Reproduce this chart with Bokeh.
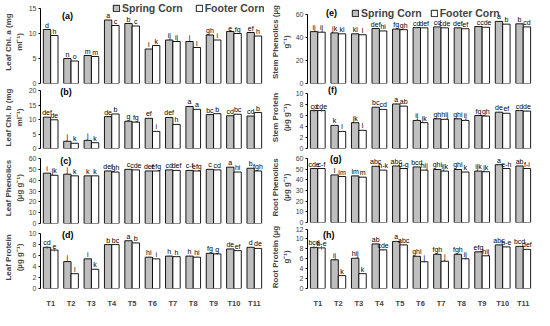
from bokeh.plotting import figure
from bokeh.models import FactorRange, Range1d, FixedTicker, Legend, LegendItem, Label, ColumnDataSource
from bokeh.transform import dodge
from bokeh.layouts import row, column
from bokeh.embed import file_html
from bokeh.resources import INLINE
from bokeh.core.properties import value

# ---------------- data ----------------
categories = ["T1", "T2", "T3", "T4", "T5", "T6", "T7", "T8", "T9", "T10", "T11"]
series_names = ["Spring Corn", "Footer Corn"]

# (a) Leaf Chl. a
leaf_chl_a_spring = [10.8, 5.0, 5.6, 12.7, 12.0, 6.9, 8.7, 8.4, 9.7, 10.4, 10.2]
leaf_chl_a_footer = [9.6, 4.5, 5.4, 11.6, 11.5, 7.6, 8.4, 7.2, 8.7, 10.0, 9.5]
leaf_chl_a_let_spring = ["d", "n", "m", "a", "b", "l", "ij", "j", "gh", "e", "ef"]
leaf_chl_a_let_footer = ["h", "o", "m", "c", "c", "k", "ij", "l", "i", "fg", "h"]
leaf_chl_a_ticks = [0, 5, 10, 15]

# (b) Leaf Chl. b
leaf_chl_b_spring = [10.8, 2.5, 2.8, 11.0, 9.4, 10.4, 10.7, 14.5, 11.7, 11.3, 11.2]
leaf_chl_b_footer = [9.9, 1.8, 2.0, 11.9, 9.1, 5.9, 8.3, 13.5, 12.0, 11.8, 12.4]
leaf_chl_b_let_spring = ["def", "j", "j", "de", "g", "ef", "def", "a", "bc", "cd", "cd"]
leaf_chl_b_let_footer = ["de", "k", "k", "b", "fg", "i", "h", "a", "b", "bc", "b"]
leaf_chl_b_ticks = [0, 5, 10, 15, 20]

# (c) Leaf Phenolics
leaf_phen_spring = [46.5, 45.5, 44.0, 48.5, 50.0, 48.5, 49.5, 49.0, 50.0, 52.0, 51.0]
leaf_phen_footer = [44.5, 44.0, 44.0, 47.5, 49.5, 48.5, 49.0, 48.5, 49.5, 47.5, 48.5]
leaf_phen_let_spring = ["i", "j", "k", "def", "c", "def", "cd", "c-f", "c", "a", "b"]
leaf_phen_let_footer = ["jk", "k", "k", "gh", "cde", "efg", "def", "efg", "cd", "hi", "fgh"]
leaf_phen_ticks = [0, 10, 20, 30, 40, 50, 60]

# (d) Leaf Protein
leaf_prot_spring = [7.5, 4.9, 5.4, 8.0, 8.7, 5.7, 5.9, 5.9, 6.4, 7.2, 7.5]
leaf_prot_footer = [7.0, 2.7, 3.5, 8.0, 8.3, 5.4, 5.8, 5.7, 6.3, 6.9, 7.3]
leaf_prot_err_spring = [0.3, 0.1, 0.1, 0.1, 0.1, 0.1, 0.1, 0.1, 0.1, 0.1, 0.1]
leaf_prot_err_footer = [0.3, 0.1, 0.1, 0.1, 0.1, 0.1, 0.1, 0.1, 0.1, 0.1, 0.1]
leaf_prot_let_spring = ["cd", "j", "i", "b", "a", "hi", "h", "h", "fg", "de", "d"]
leaf_prot_let_footer = ["e", "l", "k", "bc", "b", "i", "h", "hi", "g", "ef", "de"]
leaf_prot_ticks = [0, 2, 4, 6, 8, 10]

# (e) Stem Phenolics
stem_phen_spring = [45.1, 44.0, 43.2, 47.8, 47.3, 48.6, 49.2, 48.4, 49.5, 54.0, 51.9]
stem_phen_footer = [44.6, 43.2, 42.4, 45.7, 46.8, 48.4, 48.4, 47.6, 48.9, 51.6, 49.2]
stem_phen_let_spring = ["ij", "jk", "kl", "def", "fg", "cd", "cd", "def", "c", "a", "b"]
stem_phen_let_footer = ["ij", "kl", "l", "hi", "gh", "def", "cde", "ef", "cde", "b", "cd"]
stem_phen_ticks = [0, 20, 40, 60]

# (f) Stem Protein
stem_prot_spring = [6.9, 4.2, 4.7, 7.5, 8.1, 5.1, 5.4, 5.4, 6.0, 6.6, 6.9]
stem_prot_footer = [6.9, 3.1, 3.3, 7.1, 7.7, 4.7, 5.3, 5.1, 5.9, 6.4, 6.8]
stem_prot_err_spring = [0.3, 0.1, 0.1, 0.1, 0.1, 0.1, 0.1, 0.1, 0.1, 0.1, 0.1]
stem_prot_err_footer = [0.3, 0.1, 0.1, 0.1, 0.1, 0.1, 0.1, 0.1, 0.1, 0.1, 0.1]
stem_prot_let_spring = ["cd", "k", "jk", "bc", "a", "ij", "gh", "ghi", "fg", "de", "cd"]
stem_prot_let_footer = ["cde", "l", "l", "cd", "ab", "jk", "hij", "ij", "gh", "ef", "de"]
stem_prot_ticks = [0, 2, 4, 6, 8, 10]

# (g) Root Phenolics
root_phen_spring = [50.6, 44.6, 43.7, 52.7, 53.0, 52.1, 49.7, 49.7, 48.2, 54.2, 53.0]
root_phen_footer = [50.6, 43.1, 42.5, 49.1, 50.6, 49.1, 48.2, 47.3, 47.6, 50.6, 50.6]
root_phen_let_spring = ["cde", "l", "lm", "abc", "abc", "bcd", "ghi", "ghi", "ijk", "a", "ab"]
root_phen_let_footer = ["c-f", "lm", "m", "h-k", "d-g", "hij", "ijk", "k", "jk", "e-h", "f-i"]
root_phen_ticks = [0, 10, 20, 30, 40, 50, 60]

# (h) Root Protein
root_prot_spring = [8.3, 5.8, 6.1, 9.0, 9.5, 6.5, 6.9, 6.9, 7.4, 8.8, 8.5]
root_prot_footer = [8.2, 2.6, 3.0, 7.8, 8.8, 5.4, 5.5, 6.0, 6.6, 8.4, 7.9]
root_prot_err_spring = [0.3, 0.1, 0.1, 0.1, 0.1, 0.1, 0.1, 0.1, 0.1, 0.1, 0.1]
root_prot_err_footer = [0.4, 0.1, 0.1, 0.2, 0.1, 0.1, 0.1, 0.1, 0.1, 0.1, 0.1]
root_prot_let_spring = ["bcd", "ij", "hij", "ab", "a", "ghi", "fgh", "fgh", "efg", "abc", "bcd"]
root_prot_let_footer = ["b-e", "k", "k", "cde", "abc", "j", "j", "ij", "hij", "b-e", "def"]
root_prot_ticks = [0, 2, 4, 6, 8, 10, 12]

# ---------------- style ----------------
FONT = "Liberation Sans"
GRAY = "#bfbfbf"
OFF = 0.18
BW = 0.36


def make_panel(width, bl, br, extra, axis_px, bb, ylabel, ticks, spring, footer,
               ls, lf, tag, tag_x, tag_dy, show_x=False, es=None, ef=None,
               legend_loc=None, legend_spacing=14):
    top = ticks[-1]
    height = extra + axis_px + bb
    ymax = top * (axis_px + extra) / axis_px
    p = figure(width=width, height=height, x_range=FactorRange(factors=categories),
               y_range=Range1d(0, ymax), output_backend="svg", toolbar_location=None,
               tools="", min_border_left=bl, min_border_right=br, min_border_top=0,
               min_border_bottom=bb)
    p.outline_line_color = None
    p.grid.visible = False
    p.background_fill_color = "white"

    data = dict(cat=categories, s=spring, f=footer, ls=ls, lf=lf)
    if es is not None:
        data["s_lo"] = [v - e for v, e in zip(spring, es)]
        data["s_hi"] = [v + e for v, e in zip(spring, es)]
        data["f_lo"] = [v - e for v, e in zip(footer, ef)]
        data["f_hi"] = [v + e for v, e in zip(footer, ef)]
    src = ColumnDataSource(data)

    xs = dodge("cat", -OFF, range=p.x_range)
    xf = dodge("cat", OFF, range=p.x_range)
    r1 = p.vbar(x=xs, top="s", width=BW, fill_color=GRAY, line_color="black",
                line_width=0.9, source=src)
    r2 = p.vbar(x=xf, top="f", width=BW, fill_color="white", line_color="black",
                line_width=0.9, source=src)

    if es is not None:
        for xx, lo, hi in ((xs, "s_lo", "s_hi"), (xf, "f_lo", "f_hi")):
            p.segment(x0=xx, y0=lo, x1=xx, y1=hi, line_color="#555555",
                      line_width=0.8, source=src)

    for xx, yy, tt in ((xs, "s", "ls"), (xf, "f", "lf")):
        p.text(x=xx, y=yy, text=tt, text_align="center", text_baseline="bottom",
               y_offset=-1, text_font_size="7px", text_font=value(FONT),
               text_color="black", source=src)

    tag_y = top + tag_dy * top / axis_px
    p.add_layout(Label(x=tag_x, y=tag_y, text=tag, text_font=FONT, text_font_size="9px",
                       text_font_style="bold", text_baseline="middle", text_align="left",
                       text_color="black"))

    if legend_loc is not None:
        leg = Legend(items=[LegendItem(label=series_names[0], renderers=[r1]),
                            LegendItem(label=series_names[1], renderers=[r2])],
                     location=legend_loc, orientation="horizontal")
        leg.background_fill_alpha = 0
        leg.border_line_color = None
        leg.padding = 0
        leg.margin = 0
        leg.spacing = legend_spacing
        leg.glyph_width = 8
        leg.glyph_height = 8
        leg.label_standoff = 2
        leg.label_height = 10
        leg.label_text_font = FONT
        leg.label_text_font_size = "10.5px"
        leg.label_text_font_style = "bold"
        p.add_layout(leg)

    ya = p.yaxis[0]
    ya.ticker = FixedTicker(ticks=ticks)
    ya.bounds = (0, top)
    ya.axis_label = ylabel
    ya.axis_label_text_font = FONT
    ya.axis_label_text_font_size = "8px"
    ya.axis_label_text_font_style = "bold"
    ya.axis_label_standoff = 2
    ya.axis_line_color = "black"
    ya.axis_line_width = 1
    ya.major_tick_line_color = "black"
    ya.major_tick_out = 2
    ya.major_tick_in = 0
    ya.minor_tick_line_color = None
    ya.major_label_text_font = FONT
    ya.major_label_text_font_size = "7px"
    ya.major_label_standoff = 2

    xa = p.xaxis[0]
    if show_x:
        xa.axis_line_color = None
        xa.major_tick_line_color = None
        xa.minor_tick_line_color = None
        xa.major_label_text_font = FONT
        xa.major_label_text_font_size = "7.5px"
        xa.major_label_text_font_style = "bold"
        xa.major_label_standoff = 4
    else:
        xa.visible = False
    return p


LW, LBL, LBR = 266, 32, 2
RW, RBL, RBR = 268, 41, 1

pa = make_panel(LW, LBL, LBR, 8, 75, 3, "Leaf Chl. a (mg\nml⁻¹)", leaf_chl_a_ticks,
                leaf_chl_a_spring, leaf_chl_a_footer, leaf_chl_a_let_spring, leaf_chl_a_let_footer,
                "(a)", 1.06, -7, legend_loc=(72, 69), legend_spacing=12)
pb = make_panel(LW, LBL, LBR, 4, 58, 4, "Leaf Chl. b (mg\nml⁻¹)", leaf_chl_b_ticks,
                leaf_chl_b_spring, leaf_chl_b_footer, leaf_chl_b_let_spring, leaf_chl_b_let_footer,
                "(b)", 0.97, -1)
pc = make_panel(LW, LBL, LBR, 6, 65, 3, "Leaf Phenolics\n(µg g⁻¹)", leaf_phen_ticks,
                leaf_phen_spring, leaf_phen_footer, leaf_phen_let_spring, leaf_phen_let_footer,
                "(c)", 0.97, -2)
pd_ = make_panel(LW, LBL, LBR, 8, 62, 14, "Leaf Protein\n(µg g⁻¹)", leaf_prot_ticks,
                 leaf_prot_spring, leaf_prot_footer, leaf_prot_let_spring, leaf_prot_let_footer,
                 "(d)", 1.05, -2, show_x=True, es=leaf_prot_err_spring, ef=leaf_prot_err_footer)

pe = make_panel(RW, RBL, RBR, 14, 69, 3, "Stem Phenolics (µg\ng⁻¹)", stem_phen_ticks,
                stem_phen_spring, stem_phen_footer, stem_phen_let_spring, stem_phen_let_footer,
                "(e)", 0.9, 2, legend_loc=(44, 64), legend_spacing=8)
pf = make_panel(RW, RBL, RBR, 7, 55, 4, "Stem Protein\n(µg g⁻¹)", stem_prot_ticks,
                stem_prot_spring, stem_prot_footer, stem_prot_let_spring, stem_prot_let_footer,
                "(f)", 1.0, 4, es=stem_prot_err_spring, ef=stem_prot_err_footer)
pg = make_panel(RW, RBL, RBR, 6, 64, 3, "Root Phenolics\n(µg g⁻¹)", root_phen_ticks,
                root_phen_spring, root_phen_footer, root_phen_let_spring, root_phen_let_footer,
                "(g)", 1.1, 0)
ph = make_panel(RW, RBL, RBR, 4, 67, 14, "Root Protein (µg\ng⁻¹)", root_prot_ticks,
                root_prot_spring, root_prot_footer, root_prot_let_spring, root_prot_let_footer,
                "(h)", 0.75, -7, show_x=True, es=root_prot_err_spring, ef=root_prot_err_footer)

layout = row(column(pa, pb, pc, pd_, spacing=0), column(pe, pf, pg, ph, spacing=0), spacing=0)

open("out.html", "w").write(file_html(layout, INLINE))
